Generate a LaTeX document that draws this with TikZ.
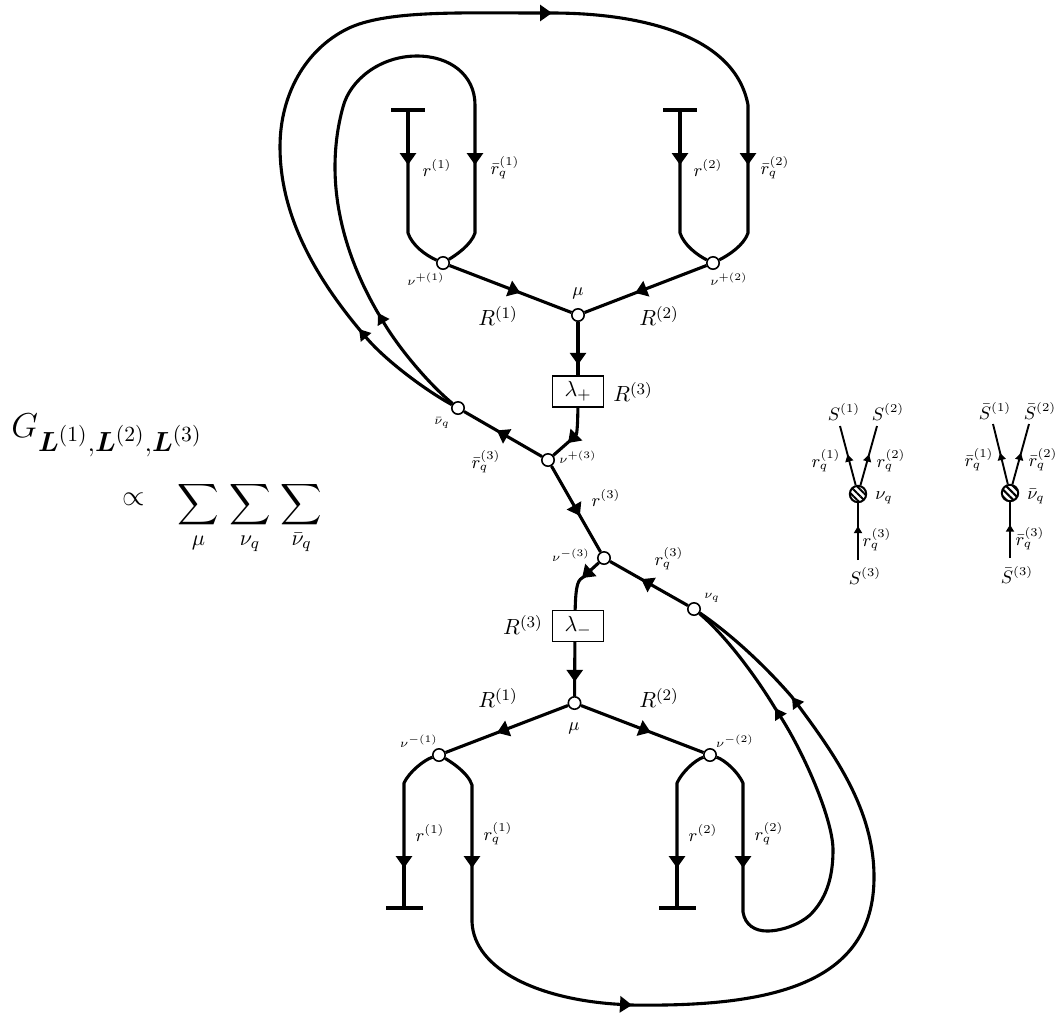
\documentclass[tikz,border=0pt]{standalone}
\usepackage{fix-cm}
\usepackage{amsmath}
\usepackage{tikz}
\usetikzlibrary{arrows.meta,decorations.markings,patterns.meta}
\DeclareMathSizes{17.28}{17.28}{13.8}{10.8}
\DeclareMathSizes{15}{15}{11}{8}
\tikzset{
  wire/.style={line width=1.55pt, line join=round},
  tipwire/.style={wire, -{Triangle[length=6pt,width=8pt]}},
  looptip/.style={wire, -{Triangle[length=5.5pt,width=6.5pt]}},
  thinwire/.style={line width=0.95pt},
  vertex/.style={circle, draw, line width=0.8pt, fill=white, minimum size=6.2pt, inner sep=0pt},
  blob/.style={circle, draw, line width=1pt, fill=white, minimum size=8.2pt, inner sep=0pt, postaction={pattern={Lines[angle=-45,distance=2.4pt,line width=1pt]}}},
  lambdabox/.style={draw, line width=0.8pt, fill=white, minimum width=25.4pt, minimum height=15.4pt, inner sep=0pt, font=\fontsize{10.95}{13}\selectfont},
  midarrow/.style={postaction={decorate, decoration={markings, mark=at position #1 with {\arrow{Triangle[length=6pt,width=8pt]}}}}},
  smallarrow/.style={postaction={decorate, decoration={markings, mark=at position #1 with {\arrow{Triangle[length=3.6pt,width=4pt]}}}}},
  lab/.style={inner sep=0pt, font=\fontsize{10.95}{13}\selectfont},
  smalllab/.style={inner sep=0pt, font=\small},
  tinylab/.style={inner sep=0pt, font=\fontsize{6}{7}\selectfont}
}
\begin{document}
\begin{tikzpicture}[x=0.5pt, y=-0.5pt]
\useasboundingbox (0,0) rectangle (1058,1014);

% Prefactor
\node[inner sep=0pt, font=\LARGE, anchor=base west] (prefactor) at (11,437) {$G_{\boldsymbol{L}^{(1)},\boldsymbol{L}^{(2)},\boldsymbol{L}^{(3)}}$};
\node[inner sep=0pt, font=\Large] (propto) at (134,499) {$\propto$};
\node[inner sep=0pt, font=\fontsize{15}{18}\selectfont] (sums) at (250,518) {$\displaystyle\sum_{\mu}\,\sum_{\nu_q}\,\sum_{\bar{\nu}_q}$};

% Vertices, upper part
\node[vertex] (nup1) at (443,263) {};
\node[vertex] (nup2) at (713,263) {};
\node[vertex] (muup) at (578,315) {};
\node[vertex] (nup3) at (548,460) {};
\node[vertex] (nubar) at (458,408) {};
\coordinate (endup1) at (408,110);
\coordinate (endup2) at (680,110);

% Vertices, lower part
\node[vertex] (num3) at (604,558) {};
\node[vertex] (nuq) at (694,609) {};
\node[vertex] (mudown) at (574.5,703) {};
\node[vertex] (num1) at (439,755) {};
\node[vertex] (num2) at (710,755) {};
\coordinate (enddown1) at (404,908);
\coordinate (enddown2) at (677,908);

% End bars
\coordinate (barupA) at (391,110);
\coordinate (barupB) at (425,110);
\coordinate (barupC) at (663,110);
\coordinate (barupD) at (697,110);
\coordinate (bardownA) at (386,908);
\coordinate (bardownB) at (423,908);
\coordinate (bardownC) at (659,908);
\coordinate (bardownD) at (696,908);
\draw[wire] (barupA) -- (barupB);
\draw[wire] (barupC) -- (barupD);
\draw[wire] (bardownA) -- (bardownB);
\draw[wire] (bardownC) -- (bardownD);

% Arrow tips on the legs and loops
\coordinate (tipup1) at (408,165);
\coordinate (tipup2) at (680,165);
\coordinate (tipbar1) at (475,165);
\coordinate (tipbar2) at (748,165);
\coordinate (tipinner) at (378,313);
\coordinate (tipouter) at (359,329);
\coordinate (tiptop) at (552,13);
\coordinate (tiplamp) at (568,443);
\coordinate (tiplamm) at (582,578);
\coordinate (tipdown1) at (404,868);
\coordinate (tipdown2) at (677,868);
\coordinate (tipq1) at (472,868);
\coordinate (tipq2) at (743,868);
\coordinate (tipbottom) at (632,1005);
\coordinate (tipqinner) at (775,708);
\coordinate (tipqouter) at (792,697);

% Upper legs
\draw[tipwire] (endup1) -- (tipup1);
\draw[wire] (tipup1) ++(0,-7) -- (408,233) .. controls (412,245) and (425,255) .. (nup1);
\draw[tipwire] (endup2) -- (tipup2);
\draw[wire] (tipup2) ++(0,-7) -- (680,233) .. controls (684,245) and (697,255) .. (nup2);
\draw[wire, midarrow=0.58] (nup1) -- (muup);
\draw[wire, midarrow=0.585] (nup2) -- (muup);
\draw[wire, midarrow=0.62] (muup) -- (578,391);
\draw[tipwire] (578,391) .. controls (578,425) and (577,434) .. (tiplamp);
\draw[wire] (tiplamp) ++(5,-5) -- (nup3);
\draw[wire, midarrow=0.58] (nup3) -- (nubar);
\draw[wire, midarrow=0.58] (nup3) -- (num3);
\draw[wire, midarrow=0.6] (nuq) -- (num3);

% Lower legs
\draw[tipwire] (num3) -- (tiplamm);
\draw[wire] (tiplamm) ++(6,-4) -- (tiplamm) .. controls (577,581) and (575,588) .. (575,625);
\draw[wire, midarrow=0.8] (575,625) -- (mudown);
\draw[wire, midarrow=0.58] (mudown) -- (num1);
\draw[wire, midarrow=0.57] (mudown) -- (num2);
\draw[tipwire] (num1) .. controls (424,760) and (409,772) .. (404,783) -- (tipdown1);
\draw[wire] (tipdown1) ++(0,-7) -- (enddown1);
\draw[tipwire] (num2) .. controls (695,760) and (682,772) .. (677,783) -- (tipdown2);
\draw[wire] (tipdown2) ++(0,-7) -- (enddown2);

% Boxes
\node[lambdabox] (lamp) at (578,391.5) {$\lambda_+$};
\node[lambdabox] (lamm) at (578,626) {$\lambda_-$};

% Inner loop, top
\draw[looptip] (nubar) .. controls (430,385) and (400,350) .. (tipinner);
\draw[tipwire] (tipinner) ++(4,6.5) -- (tipinner) .. controls (350,265) and (335,215) .. (335,167)
  .. controls (335,145) and (338,125) .. (343,107)
  .. controls (350,80) and (380,56) .. (417,56)
  .. controls (450,56) and (475,75) .. (475,105) -- (tipbar1);
\draw[wire] (tipbar1) ++(0,-7) -- (475,233) .. controls (471,245) and (456,255) .. (nup1);

% Outer loop, top
\draw[looptip] (nubar) .. controls (425,390) and (385,360) .. (tipouter);
\draw[tipwire] (tipouter) ++(4.5,5.5) -- (tipouter) .. controls (310,270) and (280,210) .. (280,147)
  .. controls (280,95) and (305,50) .. (347,29)
  .. controls (385,10) and (460,13) .. (tiptop);
\draw[tipwire] (tiptop) ++(-7,0) -- (tiptop) .. controls (640,13) and (735,35) .. (748,105) -- (tipbar2);
\draw[wire] (tipbar2) ++(0,-7) -- (748,233) .. controls (744,245) and (729,255) .. (nup2);

% Inner loop, bottom
\draw[tipwire] (num2) .. controls (725,760) and (738,772) .. (743,783) -- (tipq2);
\draw[looptip] (tipq2) ++(0,-7) -- (743,912) .. controls (745,925) and (755,931) .. (767,931)
  .. controls (782,931) and (800,924) .. (810,915)
  .. controls (825,900) and (833,880) .. (833,850)
  .. controls (833,820) and (805,755) .. (tipqinner);
\draw[wire] (tipqinner) ++(4,6) -- (tipqinner) .. controls (755,675) and (725,635) .. (nuq);

% Outer loop, bottom
\draw[tipwire] (num1) .. controls (448,760) and (468,772) .. (472,785) -- (tipq1);
\draw[tipwire] (tipq1) ++(0,-7) -- (472,922) .. controls (474,970) and (540,1000) .. (tipbottom);
\draw[looptip] (tipbottom) ++(-7,0) -- (tipbottom) .. controls (770,1007) and (874,985) .. (874,877)
  .. controls (874,810) and (835,755) .. (tipqouter);
\draw[wire] (tipqouter) ++(4,6) -- (tipqouter) .. controls (760,660) and (725,630) .. (nuq);

% Labels, upper part
\node[smalllab] (lrup1) at (437,168) {$r^{(1)}$};
\node[smalllab] (lrbup1) at (505,168) {$\bar{r}_q^{(1)}$};
\node[smalllab] (lrup2) at (708,168) {$r^{(2)}$};
\node[smalllab] (lrbup2) at (775,168) {$\bar{r}_q^{(2)}$};
\node[tinylab] (lnup1) at (426,279) {$\nu^{+(1)}$};
\node[tinylab] (lnup2) at (729,279) {$\nu^{+(2)}$};
\node[smalllab] (lmuup) at (578,293) {$\mu$};
\node[lab] (lRup1) at (498,316) {$R^{(1)}$};
\node[lab] (lRup2) at (659,316) {$R^{(2)}$};
\node[lab] (lRup3) at (633,392) {$R^{(3)}$};
\node[tinylab] (lnubar) at (442,423) {$\bar{\nu}_q$};
\node[smalllab] (lrbar3) at (486,462) {$\bar{r}_q^{(3)}$};
\node[tinylab] (lnup3) at (578,457) {$\nu^{+(3)}$};
\node[smalllab] (lr3) at (606,498) {$r^{(3)}$};

% Labels, lower part
\node[tinylab] (lnum3) at (571,555) {$\nu^{-(3)}$};
\node[smalllab] (lrq3) at (669,559) {$r_q^{(3)}$};
\node[tinylab] (lnuq) at (712,598) {$\nu_q$};
\node[lab] (lRdown3) at (523,625) {$R^{(3)}$};
\node[lab] (lRdown1) at (498,698) {$R^{(1)}$};
\node[lab] (lRdown2) at (659,698) {$R^{(2)}$};
\node[smalllab] (lmudown) at (574,728) {$\mu$};
\node[tinylab] (lnum1) at (419,741) {$\nu^{-(1)}$};
\node[tinylab] (lnum2) at (735,741) {$\nu^{-(2)}$};
\node[smalllab] (lrdown1) at (430,833) {$r^{(1)}$};
\node[smalllab] (lrqdown1) at (498,834) {$r_q^{(1)}$};
\node[smalllab] (lrdown2) at (703,833) {$r^{(2)}$};
\node[smalllab] (lrqdown2) at (769,834) {$r_q^{(2)}$};

% Small vertex S
\node[blob] (vS) at (858,494) {};
\coordinate (legS1) at (840,426);
\coordinate (legS2) at (877,426);
\coordinate (legS3) at (858,560);
\draw[thinwire, smallarrow=0.52] (vS) -- (legS1);
\draw[thinwire, smallarrow=0.52] (vS) -- (legS2);
\draw[thinwire, smallarrow=0.6] (legS3) -- (vS);
\node[smalllab] (lS1) at (844,412) {$S^{(1)}$};
\node[smalllab] (lS2) at (888,412) {$S^{(2)}$};
\node[smalllab] (lS3) at (865,576) {$S^{(3)}$};
\node[smalllab] (lrS1) at (826,461) {$r_q^{(1)}$};
\node[smalllab] (lrS2) at (891,461) {$r_q^{(2)}$};
\node[smalllab] (lrS3) at (877,540) {$r_q^{(3)}$};
\node[smalllab] (lnuS) at (884,498) {$\nu_q$};

% Small vertex S bar
\node[blob] (vSb) at (1010,493) {};
\coordinate (legSb1) at (993,424);
\coordinate (legSb2) at (1029,424);
\coordinate (legSb3) at (1010,558);
\draw[thinwire, smallarrow=0.52] (vSb) -- (legSb1);
\draw[thinwire, smallarrow=0.52] (vSb) -- (legSb2);
\draw[thinwire, smallarrow=0.6] (legSb3) -- (vSb);
\node[smalllab] (lSb1) at (995,411) {$\bar{S}^{(1)}$};
\node[smalllab] (lSb2) at (1040,411) {$\bar{S}^{(2)}$};
\node[smalllab] (lSb3) at (1017,575) {$\bar{S}^{(3)}$};
\node[smalllab] (lrSb1) at (979,460) {$\bar{r}_q^{(1)}$};
\node[smalllab] (lrSb2) at (1043,460) {$\bar{r}_q^{(2)}$};
\node[smalllab] (lrSb3) at (1030,539) {$\bar{r}_q^{(3)}$};
\node[smalllab] (lnuSb) at (1036,497) {$\bar{\nu}_q$};

\end{tikzpicture}
\end{document}
